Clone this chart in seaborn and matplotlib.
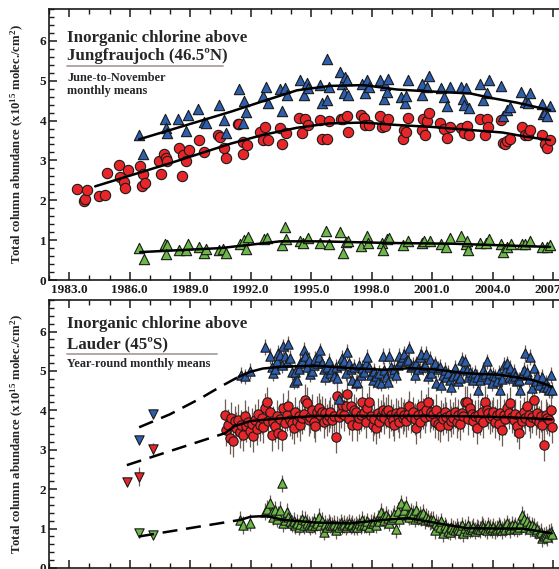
import numpy as np
import pandas as pd
import matplotlib
matplotlib.use("Agg")
import matplotlib.pyplot as plt
import seaborn as sns

# ---------------- Jungfraujoch (June-to-November monthly means) ----------------
jf_red_t = [1983.41, 1983.71, 1983.80, 1983.88, 1984.50, 1984.78, 1984.87, 1985.48, 1985.50, 1985.70,
            1985.78, 1985.90, 1986.49, 1986.60, 1986.68, 1986.77, 1987.43, 1987.55, 1987.71, 1987.79,
            1987.84, 1988.45, 1988.59, 1988.64, 1988.80, 1988.92, 1989.43, 1989.71, 1990.40, 1990.49,
            1990.70, 1990.77, 1991.36, 1991.44, 1991.61, 1991.64, 1991.81, 1992.47, 1992.63, 1992.72,
            1992.88, 1993.46, 1993.55, 1993.76, 1994.42, 1994.54, 1994.70, 1994.82, 1995.44, 1995.53,
            1995.77, 1995.86, 1996.48, 1996.60, 1996.77, 1996.85, 1997.48, 1997.60, 1997.68, 1997.85,
            1998.42, 1998.50, 1998.67, 1998.83, 1999.57, 1999.61, 1999.68, 1999.82, 2000.48, 2000.57,
            2000.64, 2000.72, 2000.86, 2001.39, 2001.60, 2001.76, 2001.86, 2002.42, 2002.56, 2002.71,
            2002.85, 2003.37, 2003.60, 2003.73, 2003.77, 2004.42, 2004.53, 2004.60, 2004.72, 2004.86,
            2005.44, 2005.61, 2005.75, 2005.86, 2006.44, 2006.60, 2006.71, 2006.85]
jf_red_v = [2.28, 1.97, 2.04, 2.26, 2.10, 2.14, 2.68, 2.89, 2.58, 2.47,
            2.30, 2.76, 2.87, 2.35, 2.66, 2.43, 2.99, 2.66, 3.16, 3.07,
            2.99, 3.32, 2.60, 3.13, 2.99, 3.25, 3.51, 3.22, 3.64, 3.58,
            3.30, 3.07, 3.91, 3.91, 3.15, 3.47, 3.39, 3.72, 3.51, 3.85,
            3.51, 3.82, 3.40, 3.68, 4.07, 3.68, 4.05, 3.89, 4.01, 3.53,
            3.53, 3.99, 4.05, 4.03, 4.11, 3.72, 4.14, 4.06, 3.89, 3.90,
            4.11, 3.85, 3.87, 4.04, 3.54, 3.76, 3.71, 4.07, 3.76, 4.04,
            3.65, 3.98, 4.18, 3.93, 3.80, 3.57, 3.85, 3.82, 3.70, 3.87,
            3.64, 4.04, 3.65, 4.04, 3.85, 4.01, 3.45, 3.42, 3.50, 3.54,
            3.85, 3.65, 3.64, 3.76, 3.65, 3.40, 3.30, 3.51]

jf_blue_t = [1986.47, 1986.68, 1987.76, 1987.81, 1987.84, 1988.42, 1988.80, 1988.88, 1989.41, 1989.71,
             1989.77, 1990.45, 1990.70, 1990.77, 1991.40, 1991.61, 1991.68, 1991.78, 1992.60, 1992.77,
             1992.88, 1993.43, 1993.55, 1993.72, 1993.80, 1994.45, 1994.62, 1994.78, 1994.83, 1995.44,
             1995.53, 1995.77, 1995.78, 1995.90, 1996.44, 1996.53, 1996.62, 1996.68, 1996.77, 1996.85,
             1997.51, 1997.68, 1997.79, 1997.85, 1998.42, 1998.59, 1998.67, 1998.75, 1998.83, 1999.44,
             1999.67, 1999.70, 1999.82, 2000.48, 2000.52, 2000.72, 2000.86, 2001.43, 2001.60, 2001.76,
             2001.86, 2002.43, 2002.55, 2002.58, 2002.70, 2002.84, 2003.37, 2003.54, 2003.70, 2003.82,
             2004.42, 2004.53, 2004.70, 2004.86, 2005.42, 2005.61, 2005.75, 2005.86, 2006.44, 2006.50,
             2006.60, 2006.68, 2006.85]
jf_blue_v = [3.65, 3.16, 4.05, 3.82, 3.70, 4.04, 3.74, 4.14, 4.28, 3.97,
             3.93, 4.39, 4.01, 3.70, 4.78, 3.93, 4.49, 4.22, 4.61, 4.85,
             4.43, 4.78, 4.24, 4.83, 4.64, 5.01, 4.64, 4.95, 4.82, 4.89,
             4.43, 4.51, 5.55, 4.85, 5.22, 4.93, 4.68, 5.10, 5.01, 4.64,
             4.93, 4.68, 5.01, 4.85, 5.01, 4.55, 4.89, 4.72, 5.05, 4.60,
             4.45, 4.62, 5.01, 4.91, 4.65, 4.85, 5.12, 4.82, 4.60, 4.36,
             4.85, 4.85, 4.54, 4.39, 4.82, 4.32, 4.93, 4.51, 4.68, 5.01,
             4.87, 4.12, 4.26, 4.35, 4.71, 4.47, 4.45, 4.68, 4.41, 4.16,
             4.22, 4.11, 4.36]

jf_green_t = [1986.44, 1986.69, 1987.73, 1987.84, 1987.81, 1988.47, 1988.80, 1988.88, 1989.45, 1989.71,
              1989.80, 1990.44, 1990.65, 1990.78, 1991.45, 1991.68, 1991.89, 1991.78, 1992.68, 1992.80,
              1993.53, 1993.68, 1993.75, 1994.46, 1994.60, 1994.82, 1995.44, 1995.74, 1995.89, 1996.44,
              1996.57, 1996.73, 1996.85, 1997.46, 1997.76, 1997.82, 1998.49, 1998.57, 1998.75, 1998.88,
              1999.54, 1999.82, 2000.48, 2000.59, 2000.87, 2001.43, 2001.69, 2001.86, 2002.42, 2002.67,
              2002.79, 2002.75, 2003.37, 2003.67, 2003.84, 2004.41, 2004.53, 2004.73, 2004.90, 2005.44,
              2005.60, 2005.86, 2006.44, 2006.70, 2006.85]
jf_green_v = [0.80, 0.53, 0.91, 0.87, 0.66, 0.75, 0.75, 0.91, 0.83, 0.68,
              0.78, 0.75, 0.78, 0.68, 0.91, 1.01, 1.08, 0.78, 1.04, 1.06,
              0.89, 1.33, 1.04, 0.97, 0.93, 1.05, 0.93, 1.22, 0.91, 1.20,
              0.68, 0.95, 0.97, 0.85, 1.10, 0.93, 0.93, 0.76, 1.03, 1.06,
              0.89, 0.99, 0.93, 0.97, 0.97, 0.91, 0.83, 1.05, 1.11, 0.91,
              0.75, 0.97, 0.93, 0.93, 1.03, 0.91, 0.70, 0.83, 0.91, 0.91,
              0.91, 0.97, 0.83, 0.83, 0.89]

# fitted trends
jf_fit_red_t = [1984.29, 1988.0, 1991.0, 1992.6, 1994.3, 1995.9, 1997.6, 1999.25, 2001.0, 2003.0, 2004.5, 2005.6, 2006.85]
jf_fit_red_v = [2.35, 2.93, 3.42, 3.64, 3.82, 3.93, 3.95, 3.89, 3.84, 3.76, 3.70, 3.60, 3.51]
jf_fit_blue_t = [1986.47, 1991.0, 1992.63, 1994.3, 1995.94, 1997.6, 1999.25, 2000.57, 2002.9, 2003.9, 2005.2, 2006.85]
jf_fit_blue_v = [3.53, 4.22, 4.49, 4.76, 4.87, 4.89, 4.78, 4.74, 4.68, 4.57, 4.45, 4.26]
jf_fit_green_t = [1986.52, 1990.49, 1993.46, 1995.44, 1998.75, 2002.06, 2006.85]
jf_fit_green_v = [0.70, 0.80, 0.97, 0.97, 0.93, 0.91, 0.83]

# ---------------- Lauder (year-round monthly means), Sep 1990 - Dec 2006 ----------------
ld_first_year, ld_first_month = 1990, 9
ld_red = [3.88, 3.50, 3.64, 3.29,
          3.80, 3.22, 3.72, 3.55, 3.76, 3.45, 3.62, 3.38, 3.85, 3.60, 3.70, 3.48,
          3.65, 3.35, 3.76, 3.52, 3.90, 3.62, 3.80, 3.58, 4.05, 4.20, 3.72, 3.95,
          3.37, 3.70, 3.59, 3.85, 3.42, 3.78, 3.37, 4.05, 3.68, 3.88, 4.11, 3.75,
          3.67, 3.54, 3.95, 3.72, 3.86, 3.63, 3.80, 3.90, 4.26, 4.18, 3.75, 3.82,
          4.01, 3.71, 3.59, 3.97, 4.05, 3.88, 3.97, 3.70, 3.92, 3.76, 3.85, 3.95,
          3.76, 3.85, 3.32, 4.36, 3.82, 3.94, 4.14, 3.88, 4.10, 4.41, 3.78, 4.10,
          3.63, 4.01, 3.95, 3.63, 3.80, 3.88, 4.22, 3.92, 3.70, 4.05, 4.22, 3.85,
          3.63, 3.78, 3.54, 3.92, 3.70, 3.85, 4.01, 3.80, 3.95, 4.01, 3.70, 3.88,
          3.75, 3.63, 3.92, 3.85, 3.70, 3.95, 3.80, 3.88, 3.72, 3.90, 4.10, 3.82,
          3.95, 3.78, 3.54, 3.88, 3.70, 4.11, 3.92, 3.82, 4.01, 4.20, 3.85, 3.95,
          3.90, 3.70, 4.01, 3.65, 3.59, 3.85, 3.78, 3.95, 3.82, 3.62, 3.88, 3.72,
          3.80, 3.95, 3.70, 3.88, 3.65, 3.92, 3.85, 4.22, 4.22, 3.78, 4.05, 3.90,
          3.72, 3.85, 3.54, 3.88, 3.78, 3.95, 3.70, 4.22, 4.01, 3.92, 3.80, 3.85,
          3.95, 3.70, 3.88, 3.65, 3.94, 3.50, 3.88, 3.78, 4.05, 3.92, 4.18, 3.82,
          3.75, 3.90, 3.60, 3.42, 3.85, 3.72, 3.95, 3.80, 4.10, 3.88, 3.70, 3.82,
          4.25, 3.78, 3.92, 3.70, 3.85, 3.62, 3.12, 3.88, 3.80, 3.75, 4.01, 3.57]
N = None
ld_blue = [N, N, N, N,
           N, N, N, N, N, N, 4.90, N, 4.86, N, N, 5.00,
           N, N, N, N, N, N, N, N, 5.60, N, N, 5.38,
           5.11, 4.95, 5.05, 5.25, 5.45, 5.40, 5.15, 5.62, 5.38, 5.22, 5.68, 5.32,
           4.98, 4.73, 4.98, 4.77, 5.05, 5.20, 5.24, 5.53, 5.38, 5.10, 5.28, 4.92,
           5.00, 5.15, 5.30, 5.19, 5.35, 5.52, 5.19, 5.05, 4.85, 5.10, 5.25, 4.95,
           5.05, 4.88, 5.10, 4.81, 4.30, 5.15, 5.32, 5.24, 4.95, 5.49, 5.19, 5.05,
           4.77, 5.11, 4.69, 4.73, 5.15, 4.90, 5.08, 4.98, 5.19, 5.36, 5.11, 4.90,
           4.77, 5.00, 4.86, 4.73, 4.95, 4.69, 5.38, 5.03, 4.85, 4.73, 5.38, 5.10,
           4.95, 5.05, 4.90, 5.15, 5.38, 5.24, 5.36, 5.43, 5.24, 5.28, 5.57, 5.10,
           5.15, 4.90, 5.19, 5.05, 5.36, 5.43, 5.10, 5.15, 5.43, 4.86, 5.30, 4.95,
           5.10, 5.19, 4.69, 5.05, 5.11, 4.64, 4.90, 5.02, 4.85, 4.95, 4.77, 4.60,
           4.86, 5.07, 4.90, 4.75, 4.81, 5.28, 5.05, 5.24, 5.02, 4.85, 4.98, 4.90,
           4.77, 4.95, 4.85, 4.52, 4.77, 4.88, 5.02, 4.92, 5.24, 4.80, 4.94, 4.70,
           4.90, 4.86, 4.75, 4.95, 4.52, 4.80, 5.15, 5.00, 5.19, 4.85, 5.07, 4.81,
           4.98, 4.88, 4.75, 4.77, 4.52, 4.90, 5.02, 5.45, 4.98, 4.80, 5.36, 4.56,
           5.07, 4.75, 4.86, 4.65, 4.77, 4.85, 4.60, 4.70, 4.60, 4.52, 4.90, 4.52]
ld_green = [N, N, N, N,
            N, N, N, N, N, 1.22, N, 1.09, N, N, N, 1.15,
            N, N, N, N, N, N, N, N, 1.43, 1.50, N, 1.64,
            1.43, 1.30, 1.48, 1.25, 1.35, 1.47, 2.15, 1.13, 1.22, 1.43, 1.30, 1.18,
            1.13, 1.20, 1.08, 1.15, 1.05, 1.12, 1.25, 1.08, 1.22, 1.15, 1.10, 1.05,
            1.10, 1.18, 1.08, 1.15, 1.30, 1.09, 1.20, 0.92, 1.12, 1.05, 1.15, 1.10,
            1.08, 1.12, 0.96, 1.10, 1.05, 1.15, 1.08, 1.12, 1.05, 1.10, 1.15, 1.08,
            1.12, 1.05, 1.10, 1.05, 1.15, 1.08, 1.22, 1.12, 1.10, 1.18, 1.05, 1.15,
            1.13, 1.20, 1.10, 1.25, 1.18, 1.43, 1.30, 1.22, 1.35, 1.28, 1.15, 1.25,
            1.30, 1.38, 0.98, 1.45, 1.25, 1.64, 1.40, 1.47, 1.60, 1.35, 1.30, 1.42,
            1.38, 1.25, 1.47, 1.30, 1.35, 1.28, 1.40, 1.22, 1.30, 1.25, 1.18, 1.22,
            1.22, 0.96, 1.15, 1.10, 1.05, 1.18, 0.88, 1.08, 1.02, 0.95, 0.92, 1.05,
            1.00, 0.96, 1.05, 0.98, 0.96, 1.08, 0.88, 1.02, 0.95, 1.10, 0.98, 1.00,
            1.05, 0.95, 1.02, 1.00, 0.98, 1.09, 1.05, 1.00, 0.96, 1.08, 1.02, 0.98,
            1.05, 0.96, 1.00, 1.08, 1.02, 0.96, 1.05, 1.00, 1.13, 1.05, 0.98, 1.10,
            1.02, 1.08, 1.00, 1.05, 1.12, 1.35, 1.25, 1.05, 1.18, 1.10, 1.00, 1.08,
            1.05, 0.95, 0.98, 0.88, 0.92, 0.75, 0.82, 0.84, 0.78, 0.90, 0.92, 0.85]
ld_err = {"red": 0.4, "blue": 0.2, "green": 0.22}

# early Lauder measurements (down triangles)
ld_early_red_t = [1985.86, 1986.47, 1987.15]
ld_early_red_v = [2.19, 2.32, 3.02]
ld_early_red_e = [0.0, 0.25, 0.15]
ld_early_blue_t = [1986.47, 1987.15]
ld_early_blue_v = [3.25, 3.90]
ld_early_green_t = [1986.47, 1987.15]
ld_early_green_v = [0.88, 0.84]

# trend lines: dashed extrapolation + solid fit
ld_dash_red_t = [1985.86, 1990.73]
ld_dash_red_v = [2.61, 3.42]
ld_fit_red_t = [1990.73, 1991.2, 1992.0, 1993.6, 1995.3, 1996.9, 1999.4, 2002.7, 2005.0, 2006.93]
ld_fit_red_v = [3.42, 3.60, 3.73, 3.80, 3.86, 3.86, 3.86, 3.85, 3.82, 3.77]
ld_dash_blue_t = [1986.47, 1988.0, 1989.5, 1990.5, 1991.4]
ld_dash_blue_v = [3.57, 3.90, 4.30, 4.60, 4.85]
ld_fit_blue_t = [1991.4, 1992.0, 1992.6, 1993.6, 1995.3, 1996.9, 1998.6, 1999.9, 2001.1, 2002.7, 2004.4, 2006.0, 2006.93]
ld_fit_blue_v = [4.85, 4.98, 5.06, 5.11, 5.13, 5.07, 5.03, 5.07, 5.04, 4.94, 4.90, 4.77, 4.60]
ld_dash_green_t = [1986.47, 1991.48]
ld_dash_green_v = [0.80, 1.22]
ld_fit_green_t = [1991.48, 1992.0, 1992.8, 1993.6, 1995.3, 1996.9, 1998.6, 1999.4, 1999.9, 2001.1, 2002.7, 2004.4, 2005.5, 2006.93]
ld_fit_green_v = [1.22, 1.30, 1.32, 1.22, 1.15, 1.13, 1.22, 1.25, 1.26, 1.15, 1.01, 1.00, 1.00, 0.88]

colors = {"red": "#e8262a", "blue": "#2d5fae", "green": "#6cb846"}
bar_color = "#6e5e55"

# ---------------- style ----------------
sns.set_theme(style="ticks")
plt.rcParams["font.family"] = ["Liberation Serif", "DejaVu Serif"]
plt.rcParams["font.weight"] = "bold"
plt.rcParams["mathtext.fontset"] = "custom"
plt.rcParams["mathtext.rm"] = "Liberation Serif:bold"
plt.rcParams["mathtext.bf"] = "Liberation Serif:bold"
plt.rcParams["mathtext.default"] = "bf"

fig = plt.figure(figsize=(5.59, 5.69), dpi=100)
ax1 = fig.add_axes([0.0877, 0.5079, 0.9123, 0.4763])
ax2 = fig.add_axes([0.0877, 0.0018, 0.9123, 0.4710])


def scatter(ax, t, v, key, marker, size=50):
    df = pd.DataFrame({"t": t, "v": pd.to_numeric(pd.Series(v), errors="coerce")}).dropna()
    sns.scatterplot(data=df, x="t", y="v", ax=ax, marker=marker, s=size, color=colors[key],
                    edgecolor="#1a1a1a", linewidth=0.8, zorder=3, legend=False)
    return df


def trend(ax, t, v, dashed=False):
    df = pd.DataFrame({"t": t, "v": v})
    sns.lineplot(data=df, x="t", y="v", ax=ax, color="black", lw=1.8, sort=False,
                 estimator=None, zorder=5, linestyle=(0, (6, 3.5)) if dashed else "-")


# top panel
scatter(ax1, jf_red_t, jf_red_v, "red", "o", 55)
scatter(ax1, jf_blue_t, jf_blue_v, "blue", "^", 55)
scatter(ax1, jf_green_t, jf_green_v, "green", "^", 55)
trend(ax1, jf_fit_red_t, jf_fit_red_v)
trend(ax1, jf_fit_blue_t, jf_fit_blue_v)
trend(ax1, jf_fit_green_t, jf_fit_green_v)

# bottom panel
ld_t = ld_first_year + (ld_first_month - 1 + np.arange(len(ld_red)) + 0.5) / 12
for key, vals, mk in [("green", ld_green, "^"), ("red", ld_red, "o"), ("blue", ld_blue, "^")]:
    df = pd.DataFrame({"t": ld_t, "v": pd.to_numeric(pd.Series(vals), errors="coerce")}).dropna()
    ax2.vlines(df["t"], df["v"] - ld_err[key], df["v"] + ld_err[key], color=bar_color, lw=0.9, zorder=1)
    scatter(ax2, df["t"], df["v"], key, mk, 45)

ax2.vlines(ld_early_red_t, np.array(ld_early_red_v) - ld_early_red_e,
           np.array(ld_early_red_v) + ld_early_red_e, color=bar_color, lw=0.9, zorder=1)
scatter(ax2, ld_early_red_t, ld_early_red_v, "red", "v", 45)
scatter(ax2, ld_early_blue_t, ld_early_blue_v, "blue", "v", 45)
scatter(ax2, ld_early_green_t, ld_early_green_v, "green", "v", 45)

trend(ax2, ld_dash_red_t, ld_dash_red_v, dashed=True)
trend(ax2, ld_fit_red_t, ld_fit_red_v)
trend(ax2, ld_dash_blue_t, ld_dash_blue_v, dashed=True)
trend(ax2, ld_fit_blue_t, ld_fit_blue_v)
trend(ax2, ld_dash_green_t, ld_dash_green_v, dashed=True)
trend(ax2, ld_fit_green_t, ld_fit_green_v)

# axes cosmetics
ylab = "Total column abundance (x10$^{15}$ molec./cm$^{2}$)"
for ax in (ax1, ax2):
    ax.set_xlim(1982.0, 2007.29)
    ax.set_ylim(0, 6.8)
    ax.set_xticks(np.arange(1983, 2008, 3))
    ax.set_xticks(np.arange(1982, 2008, 1), minor=True)
    ax.set_yticks(range(0, 7))
    ax.set_yticks(np.arange(0, 6.81, 0.2), minor=True)
    ax.tick_params(axis="both", which="major", direction="in", length=6, width=1.1,
                   labelsize=9.5, pad=3, colors="#1a1a1a")
    ax.tick_params(axis="both", which="minor", direction="in", length=3.5, width=1.0, colors="#1a1a1a")
    ax.tick_params(axis="x", which="both", top=True, bottom=True)
    ax.tick_params(axis="y", which="both", left=True, right=False, pad=2)
    ax.set_xlabel("")
    ax.set_ylabel(ylab, fontsize=9.2, fontweight="bold")
    ax.yaxis.set_label_coords(-0.046, 0.5)
    for side in ("left", "top", "bottom"):
        ax.spines[side].set_linewidth(1.2)
        ax.spines[side].set_color("#1a1a1a")
    ax.spines["right"].set_visible(False)
    for lab in ax.get_xticklabels() + ax.get_yticklabels():
        lab.set_fontweight("bold")

ax1.set_xticklabels([f"{y:.1f}" for y in np.arange(1983, 2008, 3)])
ax2.set_xticklabels([])

# panel annotations
big, small = 12.2, 8.8
ax1.text(0.0353, 0.880, "Inorganic chlorine above", transform=ax1.transAxes, fontsize=big, fontweight="bold")
ax1.text(0.0353, 0.810, "Jungfraujoch (46.5ºN)", transform=ax1.transAxes, fontsize=big, fontweight="bold")
ax1.plot([0.0353, 0.341], [0.79, 0.79], transform=ax1.transAxes, color="#aaa19d", lw=1.3)
ax1.text(0.0353, 0.736, "June-to-November", transform=ax1.transAxes, fontsize=small, fontweight="bold")
ax1.text(0.0353, 0.686, "monthly means", transform=ax1.transAxes, fontsize=small, fontweight="bold")

ax2.text(0.0353, 0.894, "Inorganic chlorine above", transform=ax2.transAxes, fontsize=big, fontweight="bold")
ax2.text(0.0353, 0.820, "Lauder (45ºS)", transform=ax2.transAxes, fontsize=big, fontweight="bold")
ax2.plot([0.0353, 0.329], [0.799, 0.799], transform=ax2.transAxes, color="#aaa19d", lw=1.3)
ax2.text(0.0353, 0.750, "Year-round monthly means", transform=ax2.transAxes, fontsize=small, fontweight="bold")

fig.savefig("out.png", dpi=100)
